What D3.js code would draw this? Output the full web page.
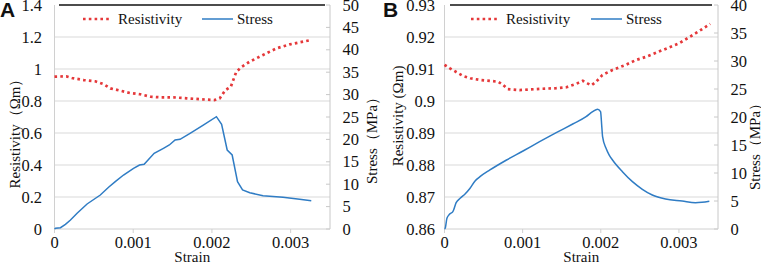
<!DOCTYPE html>
<html><head><meta charset="utf-8">
<script src="https://cdn.jsdelivr.net/npm/d3@7"></script>
<style>
html,body{margin:0;padding:0;background:#fff;}
svg{display:block;}
</style></head>
<body><svg id="c" width="761" height="263"></svg>
<script>
// ---- Data (strain in units of 1e-3) ----
const xTicks = [0, 1, 2, 3];
const xTickLabels = ["0", "0.001", "0.002", "0.003"];

// Panel A
const aResStrain = [0,0.15,0.22,0.37,0.52,0.62,0.71,0.84,0.96,1.09,1.22,1.34,1.51,1.68,1.85,2.03,2.10,2.17,2.24,2.31,2.38,2.48,2.65,2.82,2.99,3.26];
const aRes       = [0.952,0.954,0.944,0.931,0.923,0.906,0.879,0.864,0.85,0.842,0.827,0.823,0.823,0.817,0.811,0.806,0.817,0.868,0.889,0.983,1.014,1.046,1.088,1.129,1.154,1.181];
const aStressStrain = [0,0.013,0.076,0.139,0.203,0.287,0.414,0.582,0.687,0.772,0.877,1.004,1.08,1.139,1.266,1.384,1.459,1.532,1.595,1.722,1.89,2.057,2.123,2.194,2.257,2.325,2.389,2.481,2.649,2.903,3.114,3.262];
const aStress       = [0,0.16,0.29,1.05,2.01,3.5,5.58,7.59,9.31,10.56,12.05,13.55,14.29,14.44,16.9,18.01,18.75,19.87,20.02,21.36,23.21,25.07,23.37,17.63,16.52,10.56,8.71,8.1,7.43,7.08,6.63,6.32];
const aLeftTicks  = [0,0.2,0.4,0.6,0.8,1,1.2,1.4];
const aLeftLabels = ["0","0.2","0.4","0.6","0.8","1","1.2","1.4"];
const aRightTicks = [0,5,10,15,20,25,30,35,40,45,50];

// Panel B
const bResStrain = [0,0.07,0.16,0.24,0.33,0.45,0.58,0.69,0.75,0.81,0.96,1.22,1.43,1.56,1.68,1.77,1.83,1.88,1.94,2.02,2.15,2.32,2.45,2.58,2.79,3.0,3.21,3.40];
const bRes       = [0.9113,0.9102,0.9089,0.9078,0.9071,0.9066,0.9063,0.906,0.905,0.9037,0.9034,0.9038,0.904,0.9043,0.9053,0.9063,0.9055,0.9049,0.906,0.9081,0.9097,0.9113,0.9128,0.9138,0.9159,0.918,0.9211,0.9241];
const bStressStrain = [0,0.009,0.031,0.064,0.107,0.149,0.2,0.263,0.327,0.391,0.454,0.581,0.794,1.005,1.217,1.43,1.641,1.812,1.896,1.959,1.997,2.013,2.023,2.066,2.108,2.15,2.277,2.405,2.532,2.659,2.829,3.041,3.211,3.295,3.389];
const bStress       = [0,0.13,1.91,2.63,3.09,4.7,5.48,6.25,7.27,8.57,9.34,10.54,12.32,13.93,15.59,17.2,18.75,20.05,20.95,21.4,20.95,18.27,16.48,14.46,13.2,12.32,10.23,8.45,7.09,6.07,5.36,5.0,4.7,4.77,4.95];
const bLeftTicks  = [0.86,0.87,0.88,0.89,0.9,0.91,0.92,0.93];
const bLeftLabels = ["0.86","0.87","0.88","0.89","0.9","0.91","0.92","0.93"];
const bRightTicks = [0,5,10,15,20,25,30,35,40];

const seriesNames = ["Resistivity", "Stress"];
const RED = "#e5383a", BLUE = "#2f7cc4";
const SERIF = "'Liberation Serif', 'Times New Roman', serif";

const svg = d3.select("#c").attr("font-family", SERIF);

function panel(o) {
  const g = svg.append("g").attr("font-family", SERIF).attr("fill", "#111");
  const x = d3.scaleLinear().domain([0, 3.5]).range([o.x0, o.x1]);
  const yL = d3.scaleLinear().domain(o.leftDomain).range([229, 5]);
  const yR = d3.scaleLinear().domain(o.rightDomain).range([229, 5]);

  const T = (sel) => sel.attr("font-family", SERIF).attr("fill", "#111");

  // gridlines
  g.selectAll("line.grid").data(o.leftTicks.slice(1, -1)).join("line")
    .attr("x1", o.x0).attr("x2", o.x1).attr("y1", d => yL(d)).attr("y2", d => yL(d))
    .attr("stroke", "#d9d9d9").attr("stroke-width", 1);
  // top black line
  g.append("line").attr("x1", o.topL).attr("x2", o.topR)
    .attr("y1", yL(o.leftDomain[1])).attr("y2", yL(o.leftDomain[1]))
    .attr("stroke", "#111").attr("stroke-width", 1.3);
  // left axis line
  g.append("line").attr("x1", o.x0).attr("x2", o.x0).attr("y1", 5).attr("y2", 233)
    .attr("stroke", "#d0d0d0");
  // right axis line
  g.append("line").attr("x1", o.x1).attr("x2", o.x1).attr("y1", 5).attr("y2", 229)
    .attr("stroke", "#c8c8c8");
  // right ticks (inside)
  g.selectAll("line.rt").data(o.rightTicks).join("line")
    .attr("x1", o.x1 - 4).attr("x2", o.x1).attr("y1", d => yR(d)).attr("y2", d => yR(d))
    .attr("stroke", "#c8c8c8");
  // bottom axis
  g.append("line").attr("x1", o.x0).attr("x2", o.x1).attr("y1", 229).attr("y2", 229)
    .attr("stroke", "#d0d0d0");
  g.selectAll("line.xt").data(xTicks).join("line")
    .attr("x1", d => x(d)).attr("x2", d => x(d)).attr("y1", 229).attr("y2", 233)
    .attr("stroke", "#d0d0d0");

  // x tick labels
  T(g.selectAll("text.xl").data(xTicks).join("text"))
    .attr("x", d => x(d)).attr("y", 248).attr("text-anchor", "middle")
    .attr("font-size", 16.5).text((d, i) => xTickLabels[i]);
  // left tick labels
  T(g.selectAll("text.yl").data(o.leftTicks).join("text"))
    .attr("x", o.leftLabelX).attr("y", d => yL(d)).attr("dy", "0.34em")
    .attr("text-anchor", "end").attr("font-size", 16.5).text((d, i) => o.leftLabels[i]);
  // right tick labels
  T(g.selectAll("text.yr").data(o.rightTicks).join("text"))
    .attr("x", o.x1 + 12.5).attr("y", d => yR(d)).attr("dy", "0.34em")
    .attr("text-anchor", "start").attr("font-size", 16.5).text(d => d);

  // axis titles
  T(g.append("text")).attr("x", (o.x0 + o.x1) / 2).attr("y", 262).attr("text-anchor", "middle")
    .attr("font-size", 15).text("Strain");
  T(g.append("text")).attr("transform", `translate(${o.leftTitleX},${o.leftTitleY}) rotate(-90)`)
    .attr("text-anchor", "middle").attr("dy", "0.33em").attr("font-size", 15).text(o.leftTitle);
  T(g.append("text")).attr("transform", `translate(${o.rightTitleX},${o.rightTitleY}) rotate(-90)`)
    .attr("text-anchor", "middle").attr("dy", "0.33em").attr("font-size", 15).text("Stress（MPa）");

  // panel letter
  g.append("text").attr("x", o.letterX).attr("y", 17).attr("font-size", 21)
    .attr("font-weight", "bold").attr("fill", "#111")
    .attr("font-family", "'Liberation Sans', Arial, sans-serif")
    .text(o.letter);

  // series
  const resData = o.resStrain.map((s, i) => [s, o.res[i]]);
  const stData = o.stressStrain.map((s, i) => [s, o.stress[i]]);
  g.append("path").datum(stData)
    .attr("d", d3.line().x(d => x(d[0])).y(d => yR(d[1])).curve(o.stressCurve))
    .attr("fill", "none").attr("stroke", BLUE).attr("stroke-width", 1.5);
  g.append("path").datum(resData)
    .attr("d", d3.line().x(d => x(d[0])).y(d => yL(d[1])))
    .attr("fill", "none").attr("stroke", RED).attr("stroke-width", 2.7)
    .attr("stroke-dasharray", "2.6 3.2");

  // legend
  const ly = 19;
  g.append("line").attr("x1", o.leg[0]).attr("x2", o.leg[0] + 28).attr("y1", ly).attr("y2", ly)
    .attr("stroke", RED).attr("stroke-width", 2.7).attr("stroke-dasharray", "2.6 3.2");
  T(g.append("text")).attr("x", o.leg[0] + 35).attr("y", ly + 5).attr("font-size", 15).text(seriesNames[0]);
  g.append("line").attr("x1", o.leg[1]).attr("x2", o.leg[1] + 31).attr("y1", ly).attr("y2", ly)
    .attr("stroke", BLUE).attr("stroke-width", 1.5);
  T(g.append("text")).attr("x", o.leg[1] + 35).attr("y", ly + 5).attr("font-size", 15).text(seriesNames[1]);
}

panel({
  x0: 54.5, x1: 330, topL: 59, topR: 325,
  leftDomain: [0, 1.4], rightDomain: [0, 50],
  leftTicks: aLeftTicks, leftLabels: aLeftLabels, rightTicks: aRightTicks,
  leftLabelX: 42, leftTitle: "Resistivity（Ωm）", leftTitleX: 15, leftTitleY: 130,
  rightTitleX: 372, rightTitleY: 137,
  letter: "A", letterX: 0,
  resStrain: aResStrain, res: aRes, stressStrain: aStressStrain, stress: aStress,
  stressCurve: d3.curveLinear, leg: [83, 202]
});
panel({
  x0: 444.5, x1: 718, topL: 450, topR: 712,
  leftDomain: [0.86, 0.93], rightDomain: [0, 40],
  leftTicks: bLeftTicks, leftLabels: bLeftLabels, rightTicks: bRightTicks,
  leftLabelX: 435, leftTitle: "Resistivity (Ωm)", leftTitleX: 398, leftTitleY: 116,
  rightTitleX: 755, rightTitleY: 143,
  letter: "B", letterX: 383,
  resStrain: bResStrain, res: bRes, stressStrain: bStressStrain, stress: bStress,
  stressCurve: d3.curveMonotoneX, leg: [471, 591]
});
</script></body></html>
